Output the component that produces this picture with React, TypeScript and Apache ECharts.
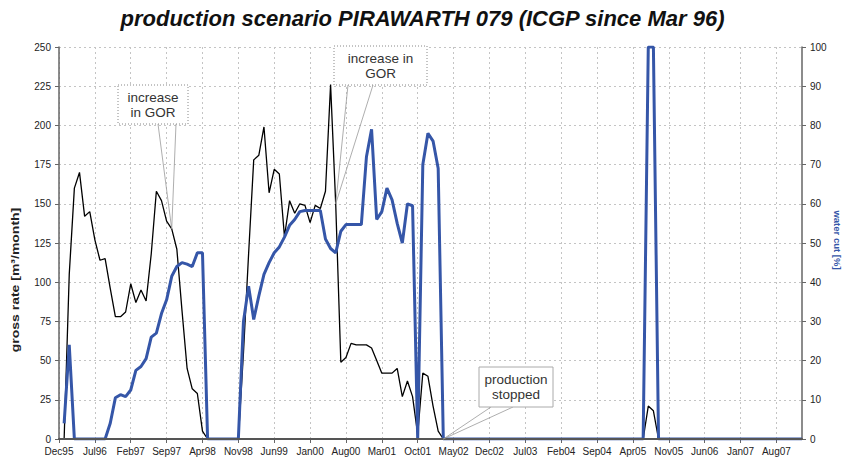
import React, { useEffect, useRef } from "react";
import * as echarts from "echarts";

// ---------- data ----------
const MONTH_NAMES = ["Jan", "Feb", "Mar", "Apr", "May", "Jun", "Jul", "Aug", "Sep", "Oct", "Nov", "Dec"];
const FIRST_YEAR = 1995;
const FIRST_MONTH = 11; // Dec
const MONTH_COUNT = 146; // Dec95 .. Jan08

const categories: string[] = [];
for (let k = 0; k < MONTH_COUNT; k++) {
  const m = (FIRST_MONTH + k) % 12;
  const y = FIRST_YEAR + Math.floor((FIRST_MONTH + k) / 12);
  categories.push(MONTH_NAMES[m] + String(y % 100).padStart(2, "0"));
}

// gross rate [m³/month] (left axis), one value per month
const grossRate: (number | null)[] = [
  null, 0, 105, 160, 170, 142, 145, 127, 114, 115,
  96, 78, 78, 81, 99, 87, 95, 88, 118, 158,
  152, 139, 134, 121, 82, 45, 32, 29, 5, 0,
  0, 0, 0, 0, 0, 0, 55, 118, 178, 181,
  199, 157, 172, 169, 129, 152, 144, 150, 149, 138,
  149, 147, 158, 226, 150, 49, 52, 61, 60, 60,
  60, 58, 50, 42, 42, 42, 45, 27, 37, 27,
  3, 42, 40, 21, 5, 0, 0, 0, 0, 0,
  0, 0, 0, 0, 0, 0, 0, 0, 0, 0,
  0, 0, 0, 0, 0, 0, 0, 0, 0, 0,
  0, 0, 0, 0, 0, 0, 0, 0, 0, 0,
  0, 0, 0, 0, 0, 21, 18, 0, 0, 0,
  0, 0, 0, 0, 0, 0, 0, 0, 0, 0,
  0, 0, 0, 0, 0, 0, 0, 0, 0, 0,
  0, 0, 0, 0, 0, 0,
];

// water cut [%] (right axis), one value per month
const waterCut: (number | null)[] = [
  null, 4, 24, 0, 0, 0, 0, 0, 0, 0,
  4, 10.5, 11.3, 10.8, 12.5, 17.5, 18.5, 20.5, 26, 27,
  32, 35.5, 41.5, 44, 45, 44.6, 44, 47.5, 47.5, 0,
  0, 0, 0, 0, 0, 0, 30, 39, 30.5, 36.5,
  42, 45, 47.5, 49, 51.5, 54.5, 56, 58, 58.3, 58.3,
  58.3, 58.3, 51, 48.6, 47.5, 53, 54.7, 54.7, 54.7, 54.7,
  72, 79, 56, 58, 64, 61, 55, 50, 60, 59.5,
  0, 70, 78, 76, 69, 0, 0, 0, 0, 0,
  0, 0, 0, 0, 0, 0, 0, 0, 0, 0,
  0, 0, 0, 0, 0, 0, 0, 0, 0, 0,
  0, 0, 0, 0, 0, 0, 0, 0, 0, 0,
  0, 0, 0, 0, 0, 100, 100, 0, 0, 0,
  0, 0, 0, 0, 0, 0, 0, 0, 0, 0,
  0, 0, 0, 0, 0, 0, 0, 0, 0, 0,
  0, 0, 0, 0, 0, 0,
];

const leftAxisTicks = { min: 0, max: 250, interval: 25 };
const rightAxisTicks = { min: 0, max: 100, interval: 10 };
const labelEvery = 7; // months between x labels

// annotations: [category index of the pointed month, text]
const gorNote1 = { index: 22, text: "increase\nin GOR" };
const gorNote2 = { index: 54, text: "increase in\nGOR" };
const stopNote = { index: 75, text: "production\nstopped" };

const TITLE = "production scenario PIRAWARTH 079 (ICGP since Mar 96)";
const FONT = "'Liberation Sans', Arial, sans-serif";
const BLUE = "#3556a8";

export default function App() {
  const ref = useRef<HTMLDivElement>(null);

  useEffect(() => {
    document.body.style.margin = "0";
    const chart = echarts.init(ref.current!, null, { renderer: "svg" });

    const gridDash = { color: "#c4c4c4", width: 1, type: [2, 3] as number[] };

    chart.setOption({
      animation: false,
      backgroundColor: "#ffffff",
      textStyle: { fontFamily: FONT },
      title: {
        text: TITLE,
        left: "center",
        top: 2,
        textStyle: {
          fontSize: 22,
          fontWeight: "bold",
          fontStyle: "italic",
          fontFamily: FONT,
          color: "#111",
        },
      },
      grid: { left: 59, right: 43, top: 47, bottom: 25, containLabel: false },
      xAxis: [
        {
          type: "category",
          data: categories,
          boundaryGap: false,
          position: "bottom",
          axisLine: { show: false },
          axisTick: {
            show: true,
            interval: labelEvery - 1,
            length: 4,
            lineStyle: { color: "#666" },
          },
          axisLabel: {
            interval: labelEvery - 1,
            fontSize: 10,
            color: "#222",
            margin: 7,
            fontFamily: FONT,
          },
          splitLine: { show: true, interval: labelEvery - 1, lineStyle: gridDash },
        },
        {
          type: "category",
          data: categories,
          boundaryGap: false,
          position: "bottom",
          z: 10,
          axisLine: { show: true, lineStyle: { color: "#555", width: 2 } },
          axisTick: { show: false },
          axisLabel: { show: false },
          splitLine: { show: false },
        },
      ],
      yAxis: [
        {
          type: "value",
          position: "left",
          min: leftAxisTicks.min,
          max: leftAxisTicks.max,
          interval: leftAxisTicks.interval,
          axisLine: { show: true, lineStyle: { color: "#666", width: 1.5 } },
          axisTick: { show: true, length: 4, lineStyle: { color: "#666" } },
          axisLabel: { fontSize: 10, color: "#222", margin: 8, fontFamily: FONT },
          splitLine: { show: true, lineStyle: gridDash },
        },
        {
          type: "value",
          position: "right",
          min: rightAxisTicks.min,
          max: rightAxisTicks.max,
          interval: rightAxisTicks.interval,
          axisLine: { show: true, lineStyle: { color: "#666", width: 1.5 } },
          axisTick: { show: true, length: 4, lineStyle: { color: "#666" } },
          axisLabel: { fontSize: 10, color: "#222", margin: 8, fontFamily: FONT },
          splitLine: { show: false },
        },
      ],
      series: [
        {
          name: "gross rate",
          type: "line",
          xAxisIndex: 0,
          yAxisIndex: 0,
          data: grossRate,
          showSymbol: false,
          symbol: "none",
          connectNulls: false,
          lineStyle: { color: "#000", width: 1.3 },
          z: 3,
        },
        {
          name: "water cut",
          type: "line",
          xAxisIndex: 0,
          yAxisIndex: 1,
          data: waterCut,
          showSymbol: false,
          symbol: "none",
          connectNulls: false,
          lineStyle: { color: BLUE, width: 3 },
          z: 4,
        },
      ],
    });

    const tip = (note: { index: number }) =>
      chart.convertToPixel({ xAxisIndex: 0, yAxisIndex: 0 }, [
        categories[note.index],
        grossRate[note.index] ?? 0,
      ]) as number[];

    const callout = (
      box: { x: number; y: number; w: number; h: number },
      legA: number,
      legB: number,
      point: number[],
      text: string,
      dashed: boolean
    ) => [
      {
        type: "polyline",
        z: 20,
        shape: {
          points: [
            [box.x + legA, box.y + box.h],
            point,
            [box.x + legB, box.y + box.h],
          ],
        },
        style: { stroke: "#999", lineWidth: 0.8, fill: null },
      },
      {
        type: "rect",
        z: 21,
        shape: { x: box.x, y: box.y, width: box.w, height: box.h },
        style: {
          fill: "#fff",
          stroke: dashed ? "#888" : "#aaa",
          lineWidth: 1,
          lineDash: dashed ? [1, 2] : null,
        },
      },
      {
        type: "text",
        z: 22,
        x: box.x + box.w / 2,
        y: box.y + box.h / 2,
        style: {
          text,
          fontSize: 13.5,
          fontFamily: FONT,
          fill: "#333",
          lineHeight: 15,
          textAlign: "center",
          textVerticalAlign: "middle",
        },
      },
    ];

    chart.setOption({
      graphic: [
        ...callout({ x: 118, y: 85, w: 70, h: 39 }, 40, 58, tip(gorNote1), gorNote1.text, true),
        ...callout({ x: 334, y: 46, w: 93, h: 39 }, 14, 39, tip(gorNote2), gorNote2.text, true),
        ...callout({ x: 479, y: 367, w: 74, h: 40 }, 12, 34, tip(stopNote), stopNote.text, false),
        {
          type: "text",
          z: 22,
          x: 16,
          y: 280,
          rotation: Math.PI / 2,
          scaleY: 0.75,
          style: {
            text: "gross rate [m³/month]",
            fontSize: 14,
            fontWeight: "bold",
            fontFamily: FONT,
            fill: "#222",
            textAlign: "center",
            textVerticalAlign: "middle",
          },
        },
        {
          type: "text",
          z: 22,
          x: 837,
          y: 240,
          rotation: -Math.PI / 2,
          style: {
            text: "water cut [%]",
            fontSize: 9.5,
            fontWeight: "bold",
            fontFamily: FONT,
            fill: BLUE,
            textAlign: "center",
            textVerticalAlign: "middle",
          },
        },
      ],
    });

    return () => chart.dispose();
  }, []);

  return <div ref={ref} style={{ width: 845, height: 464 }} />;
}
